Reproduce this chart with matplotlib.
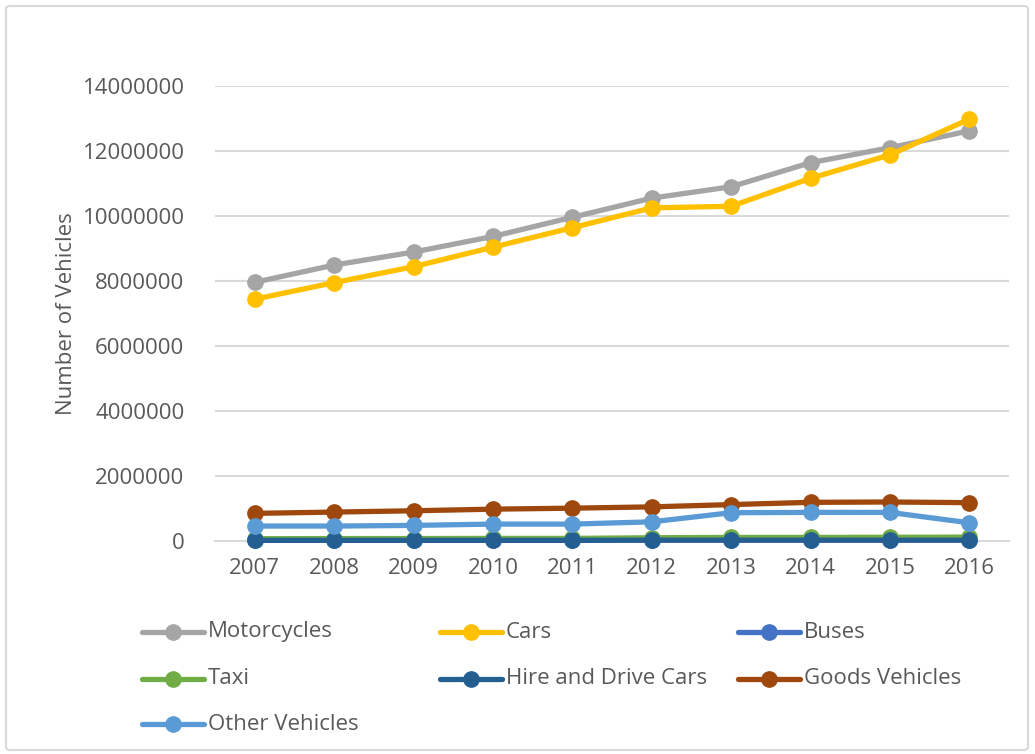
import matplotlib.pyplot as plt
from matplotlib.lines import Line2D
from matplotlib.patches import FancyBboxPatch

plt.rcParams["font.family"] = ["Open Sans", "DejaVu Sans"]

years = [2007, 2008, 2009, 2010, 2011, 2012, 2013, 2014, 2015, 2016]

motorcycles = [7960000, 8490000, 8890000, 9370000, 9960000, 10550000, 10900000, 11640000, 12100000, 12620000]
cars = [7440000, 7950000, 8440000, 9040000, 9640000, 10250000, 10300000, 11160000, 11880000, 12980000]
buses = [30000, 30000, 30000, 30000, 30000, 35000, 35000, 35000, 35000, 35000]
taxi = [70000, 75000, 75000, 80000, 80000, 100000, 110000, 110000, 115000, 120000]
hire = [20000, 20000, 20000, 20000, 20000, 25000, 25000, 25000, 25000, 25000]
goods = [850000, 890000, 930000, 980000, 1010000, 1050000, 1120000, 1190000, 1200000, 1180000]
other = [460000, 460000, 480000, 520000, 520000, 590000, 870000, 880000, 880000, 560000]

series = [
    ("Motorcycles", motorcycles, "#A5A5A5"),
    ("Cars", cars, "#FFC000"),
    ("Buses", buses, "#4472C4"),
    ("Taxi", taxi, "#70AD47"),
    ("Hire and Drive Cars", hire, "#255E91"),
    ("Goods Vehicles", goods, "#9E480E"),
    ("Other Vehicles", other, "#5B9BD5"),
]

W, H = 1035, 754
fig = plt.figure(figsize=(W / 100, H / 100), dpi=100)
fig.patch.set_facecolor("white")

# outer chart border
fig.add_artist(FancyBboxPatch((6 / W, 4 / H), 1022 / W, 744 / H,
                              boxstyle="round,pad=0,rounding_size=0.004",
                              transform=fig.transFigure, fill=False,
                              edgecolor="#D9D9D9", linewidth=1.5))

ax = fig.add_axes([215 / W, 1 - 541 / H, 794 / W, 455 / H])

xpos = list(range(len(years)))
for name, vals, col in series:
    ax.plot(xpos, vals, color=col, linewidth=3.8, marker="o", markersize=11,
            solid_capstyle="round", zorder=3, clip_on=False)

ax.set_xlim(-0.5, len(years) - 0.5)
ax.set_ylim(0, 14000000)
ax.set_yticks(range(0, 14000001, 2000000))
ax.set_yticklabels([str(v) for v in range(0, 14000001, 2000000)])
ax.set_xticks(xpos)
ax.set_xticklabels([str(y) for y in years])

ax.grid(axis="y", color="#D9D9D9", linewidth=1.5)
ax.set_axisbelow(True)
for s in ["top", "right", "left"]:
    ax.spines[s].set_visible(False)
ax.spines["bottom"].set_color("#D9D9D9")
ax.spines["bottom"].set_linewidth(1.5)
ax.tick_params(axis="both", length=0, labelsize=16, labelcolor="#595959")
ax.tick_params(axis="y", pad=22)
ax.tick_params(axis="x", pad=12)
ax.set_ylabel("Number of Vehicles", fontsize=16, color="#595959", labelpad=4)

# legend, laid out row by row like the original
cols_x = [142, 440, 738]
rows_y = [632, 679, 724]
for i, (name, vals, col) in enumerate(series):
    r, c = divmod(i, 3)
    x0 = cols_x[c]
    y0 = 1 - rows_y[r] / H
    fig.add_artist(Line2D([x0 / W, (x0 + 62) / W], [y0, y0], color=col,
                          linewidth=3.8, solid_capstyle="round",
                          transform=fig.transFigure))
    fig.add_artist(Line2D([(x0 + 31) / W], [y0], color=col, marker="o",
                          markersize=11, transform=fig.transFigure))
    fig.text((x0 + 66) / W, y0, name, fontsize=16, color="#595959",
             va="center", ha="left")

fig.savefig("out.png", dpi=100)
